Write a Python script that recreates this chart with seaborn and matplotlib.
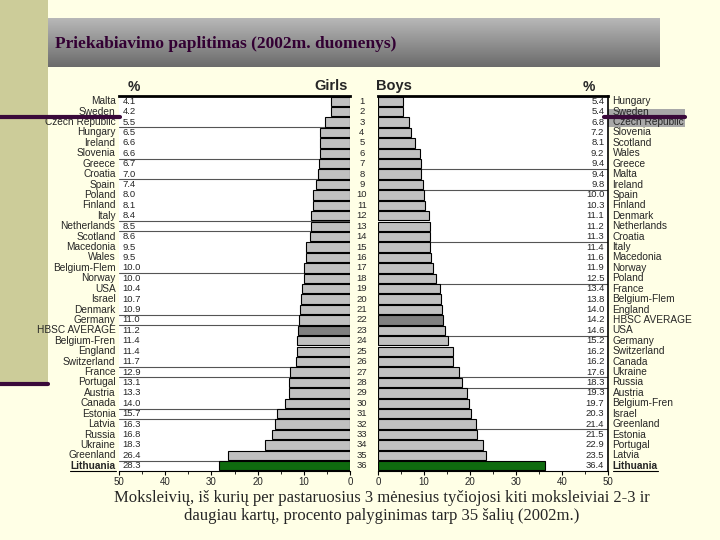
import numpy as np
import pandas as pd
import matplotlib
matplotlib.use('Agg')
import matplotlib.pyplot as plt
import seaborn as sns
from matplotlib.patches import Rectangle
from matplotlib.lines import Line2D

'''
Data read off the picture
'''
girls_countries = ['Malta', 'Sweden', 'Czech Republic', 'Hungary', 'Ireland', 'Slovenia',
                   'Greece', 'Croatia', 'Spain', 'Poland', 'Finland', 'Italy',
                   'Netherlands', 'Scotland', 'Macedonia', 'Wales', 'Belgium-Flem', 'Norway',
                   'USA', 'Israel', 'Denmark', 'Germany', 'HBSC AVERAGE', 'Belgium-Fren',
                   'England', 'Switzerland', 'France', 'Portugal', 'Austria', 'Canada',
                   'Estonia', 'Latvia', 'Russia', 'Ukraine', 'Greenland', 'Lithuania']
girls_pct = [4.1, 4.2, 5.5, 6.5, 6.6, 6.6, 6.7, 7.0, 7.4, 8.0, 8.1, 8.4,
             8.5, 8.6, 9.5, 9.5, 10.0, 10.0, 10.4, 10.7, 10.9, 11.0, 11.2, 11.4,
             11.4, 11.7, 12.9, 13.1, 13.3, 14.0, 15.7, 16.3, 16.8, 18.3, 26.4, 28.3]

boys_countries = ['Hungary', 'Sweden', 'Czech Republic', 'Slovenia', 'Scotland', 'Wales',
                  'Greece', 'Malta', 'Ireland', 'Spain', 'Finland', 'Denmark',
                  'Netherlands', 'Croatia', 'Italy', 'Macedonia', 'Norway', 'Poland',
                  'France', 'Belgium-Flem', 'England', 'HBSC AVERAGE', 'USA', 'Germany',
                  'Switzerland', 'Canada', 'Ukraine', 'Russia', 'Austria', 'Belgium-Fren',
                  'Israel', 'Greenland', 'Estonia', 'Portugal', 'Latvia', 'Lithuania']
boys_pct = [5.4, 5.4, 6.8, 7.2, 8.1, 9.2, 9.4, 9.4, 9.8, 10.0, 10.3, 11.1,
            11.2, 11.3, 11.4, 11.6, 11.9, 12.5, 13.4, 13.8, 14.0, 14.2, 14.6, 15.2,
            16.2, 16.2, 17.6, 18.3, 19.3, 19.7, 20.3, 21.4, 21.5, 22.9, 23.5, 36.4]

ranks = list(range(1, 37))

# separator lines (between rows) as seen in the picture
girls_seps = [3.5, 6.5, 8.5, 12.5, 13.5, 17.5, 21.5, 22.5, 26.5, 27.5, 30.5, 31.5, 35.5]
boys_seps = [7.5, 9.5, 14.5, 18.5, 23.5, 27.5, 28.5, 32.5]

title = 'Priekabiavimo paplitimas (2002m. duomenys)'
caption = ('Moksleivių, iš kurių per pastaruosius 3 mėnesius tyčiojosi kiti moksleiviai 2-3 ir\n'
           'daugiau kartų, procento palyginimas tarp 35 šalių (2002m.)')

BG = '#FFFFE6'
KHAKI = '#CCCC99'
PURPLE = '#3A0A3A'
GREY = '#C0C0C0'
AVG = '#808080'
GREEN = '#007A00'

W, H = 720, 540


def px_axes(fig, x0, y0, x1, y1):
    '''axes from pixel box (top-left origin)'''
    return fig.add_axes([x0 / W, 1 - y1 / H, (x1 - x0) / W, (y1 - y0) / H])


def bar_colors(countries):
    cols = []
    for c in countries:
        if c == 'Lithuania':
            cols.append(GREEN)
        elif c == 'HBSC AVERAGE':
            cols.append(AVG)
        else:
            cols.append(GREY)
    return cols


sns.set_theme(style='white')
plt.rcParams['font.family'] = ['Liberation Sans', 'DejaVu Sans']
SERIF = ['Liberation Serif', 'DejaVu Serif']

fig = plt.figure(figsize=(7.2, 5.4), dpi=100)
fig.patch.set_facecolor(BG)

# slide decoration (kept under the axes)
fig.patches.append(Rectangle((0, 1 - 383 / H), 48 / W, 383 / H, transform=fig.transFigure,
                             facecolor=KHAKI, edgecolor='none', zorder=-2))
fig.lines.append(Line2D([0, 48 / W], [1 - 384 / H] * 2, transform=fig.transFigure,
                        color=PURPLE, lw=3, zorder=-1))

# title banner with a grey gradient
ax_t = px_axes(fig, 48, 18, 660, 67)
grad = np.linspace(0.72, 0.42, 100).reshape(-1, 1)
ax_t.imshow(grad, aspect='auto', cmap='gray', vmin=0, vmax=1, extent=[0, 1, 0, 1])
ax_t.set_axis_off()
fig.text(55 / W, 1 - 44 / H, title, family=SERIF,
         fontsize=12.5, fontweight='bold', color='#330033', va='center', ha='left')

y_top, y_bot = 96, 471
fs = 6.8
fs_name = 7.3

# girls
df_g = pd.DataFrame({'country': girls_countries, 'pct': girls_pct})
ax_g = px_axes(fig, 119, y_top, 350, y_bot)
sns.barplot(data=df_g, x='pct', y='country', hue='country', palette=bar_colors(girls_countries),
            legend=False, orient='h', width=0.9, edgecolor='black', linewidth=0.8, ax=ax_g, zorder=2)
ax_g.set_xlim(50, 0)
ax_g.set_ylim(35.5, -0.5)

# boys
df_b = pd.DataFrame({'country': boys_countries, 'pct': boys_pct})
ax_b = px_axes(fig, 378, y_top, 608, y_bot)
sns.barplot(data=df_b, x='pct', y='country', hue='country', palette=bar_colors(boys_countries),
            legend=False, orient='h', width=0.9, edgecolor='black', linewidth=0.8, ax=ax_b, zorder=2)
ax_b.set_xlim(0, 50)
ax_b.set_ylim(35.5, -0.5)

for ax, seps in [(ax_g, girls_seps), (ax_b, boys_seps)]:
    ax.set_facecolor('white')
    ax.set_xlabel('')
    ax.set_ylabel('')
    ax.set_yticks([])
    ax.set_xticks(range(0, 51, 10))
    ax.set_xticks(range(0, 51, 5), minor=True)
    ax.tick_params(axis='x', which='major', length=3, width=0.8, color='black',
                   labelsize=7, pad=1.5, direction='out', bottom=True)
    ax.tick_params(axis='x', which='minor', length=2, width=0.6, color='black', bottom=True)
    for s in ax.spines.values():
        s.set_visible(False)
    ax.spines['top'].set_visible(True)
    ax.spines['top'].set_linewidth(2)
    ax.spines['top'].set_color('black')
    ax.spines['bottom'].set_visible(True)
    ax.spines['bottom'].set_linewidth(0.8)
    ax.spines['bottom'].set_color('black')
    for s in seps:
        ax.axhline(s - 1, color='#555555', lw=0.8, zorder=1)

ax_b.spines['right'].set_visible(True)
ax_b.spines['right'].set_linewidth(1.2)
ax_b.spines['right'].set_color('black')

# highlight behind Sweden / Czech Republic on the right
fig.patches.append(Rectangle((608 / W, 1 - 127 / H), 77 / W, 18 / H, transform=fig.transFigure,
                             facecolor='#A8A8A8', edgecolor='none', zorder=-1))

# row texts
renderer = fig.canvas.get_renderer()
under = []
for i, (c, v) in enumerate(zip(girls_countries, girls_pct)):
    fw = 'bold' if c == 'Lithuania' else 'normal'
    t = ax_g.text(-0.015, i, c, transform=ax_g.get_yaxis_transform(), ha='right',
                  va='center', fontsize=fs_name, fontweight=fw)
    if c == 'Lithuania':
        under.append(t)
    ax_g.text(49.2, i, f'{v:.1f}', ha='left', va='center', fontsize=fs, zorder=3)

for i, (c, v) in enumerate(zip(boys_countries, boys_pct)):
    fw = 'bold' if c == 'Lithuania' else 'normal'
    t = ax_b.text(1.02, i, c, transform=ax_b.get_yaxis_transform(), ha='left',
                  va='center', fontsize=fs_name, fontweight=fw)
    if c == 'Lithuania':
        under.append(t)
    ax_b.text(49.2, i, f'{v:.1f}', ha='right', va='center', fontsize=fs, zorder=3)

for i, r in enumerate(ranks):
    ax_b.text(-0.07, i, str(r), transform=ax_b.get_yaxis_transform(), ha='center',
              va='center', fontsize=fs)

for t in under:
    bb = t.get_window_extent(renderer=renderer)
    fb = bb.transformed(fig.transFigure.inverted())
    fig.lines.append(Line2D([fb.x0, fb.x1], [fb.y0, fb.y0], transform=fig.transFigure,
                            color='black', lw=0.8))

# headers
fig.text(134 / W, 1 - 87 / H, '%', fontsize=10, fontweight='bold', ha='center', va='center')
fig.text(348 / W, 1 - 86 / H, 'Girls', fontsize=10.5, fontweight='bold', ha='right', va='center')
fig.text(376 / W, 1 - 86 / H, 'Boys', fontsize=10.5, fontweight='bold', ha='left', va='center')
fig.text(589 / W, 1 - 87 / H, '%', fontsize=10, fontweight='bold', ha='center', va='center')

# purple rules of the slide, on top
fig.lines.append(Line2D([604 / W, 685 / W], [1 - 117 / H] * 2, transform=fig.transFigure,
                        color=PURPLE, lw=3, zorder=5))
fig.lines.append(Line2D([0, 120 / W], [1 - 117 / H] * 2, transform=fig.transFigure,
                        color=PURPLE, lw=3, zorder=5))

# caption
fig.text(382 / W, 1 - 507 / H, caption, family=SERIF,
         fontsize=12, ha='center', va='center', linespacing=1.15)

fig.savefig('out.png', dpi=100, facecolor=fig.get_facecolor())
